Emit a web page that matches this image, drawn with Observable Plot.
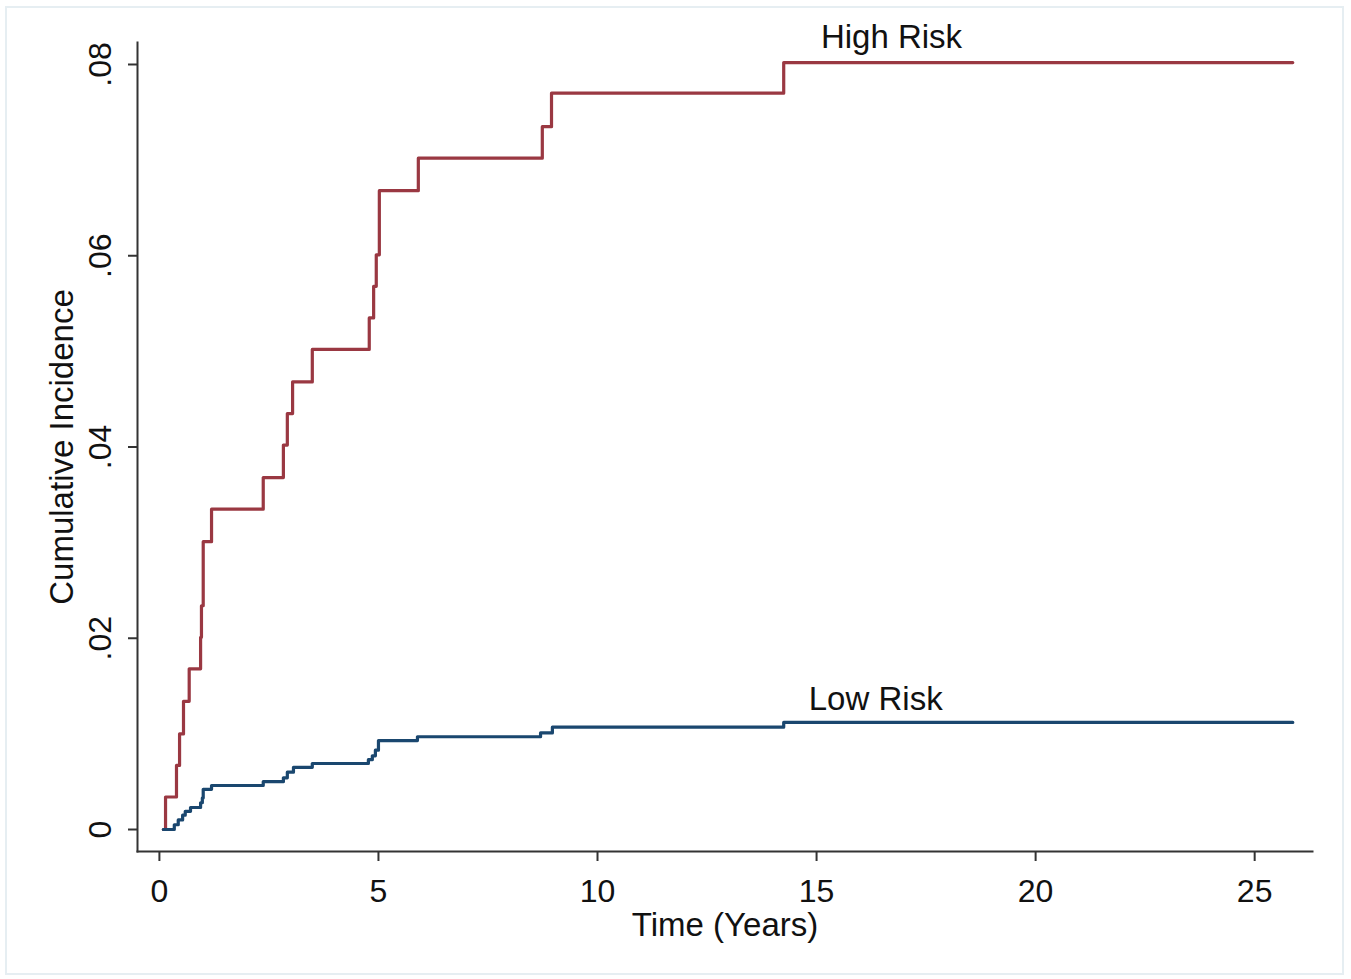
<!DOCTYPE html>
<html><head><meta charset="utf-8">
<script src="https://cdn.jsdelivr.net/npm/d3@7"></script>
<script src="https://cdn.jsdelivr.net/npm/@observablehq/plot@0.6"></script>
<style>
html,body{margin:0;padding:0;background:#fff;}
#wrap{position:relative;width:1351px;height:979px;overflow:hidden;}
#frame{position:absolute;left:5px;top:6px;width:1339px;height:969px;border:2px solid #e6eef2;box-sizing:border-box;pointer-events:none;}
#wrap svg{position:absolute;left:0;top:0;}
</style></head><body><div id="wrap"><div id="frame"></div></div>
<script>
// High risk cumulative incidence (step function)
const highTime = [0.09, 0.14, 0.39, 0.46, 0.55, 0.68, 0.94, 0.96, 1.00, 1.19, 2.37, 2.83, 2.92, 3.04, 3.49, 4.79, 4.89, 4.95, 5.02, 5.91, 8.74, 8.95, 14.25, 25.87];
const highCI   = [0, 0.0034, 0.0067, 0.0100, 0.0134, 0.0168, 0.0201, 0.0234, 0.0301, 0.0335, 0.0368, 0.0402, 0.0435, 0.0468, 0.0502, 0.0535, 0.0568, 0.0601, 0.0668, 0.0702, 0.0735, 0.0770, 0.0802, 0.0802];
// Low risk cumulative incidence (step function)
const lowTime = [0.09, 0.34, 0.43, 0.53, 0.59, 0.71, 0.94, 0.98, 1.00, 1.19, 2.37, 2.83, 2.92, 3.06, 3.49, 4.77, 4.86, 4.93, 5.00, 5.89, 8.70, 8.97, 14.25, 25.87];
const lowCI   = [0, 0.0005, 0.0010, 0.0015, 0.0019, 0.0023, 0.0028, 0.0033, 0.0042, 0.0046, 0.0050, 0.0054, 0.0060, 0.0065, 0.0069, 0.0073, 0.0077, 0.0083, 0.0093, 0.0097, 0.0101, 0.0107, 0.0112, 0.0112];

const groups = ["High Risk", "Low Risk"];
const groupColors = ["#9a3842", "#1a476f"];
const labelX = [16.71, 16.35];
const labelY = [0.0817, 0.01245];

const xTicks = [0, 5, 10, 15, 20, 25];
const yTicks = [0, 0.02, 0.04, 0.06, 0.08];
const yTickLabels = ["0", ".02", ".04", ".06", ".08"];
const xTitle = "Time (Years)";
const yTitle = "Cumulative Incidence";

const rows = [
  ...highTime.map((t, i) => ({group: groups[0], t, v: highCI[i]})),
  ...lowTime.map((t, i) => ({group: groups[1], t, v: lowCI[i]}))
];
const labels = groups.map((g, i) => ({group: g, x: labelX[i], y: labelY[i]}));

const font = "'Liberation Sans', Arial, sans-serif";
const chart = Plot.plot({
  width: 1351, height: 979,
  marginLeft: 137, marginRight: 39, marginTop: 42, marginBottom: 128,
  style: {fontFamily: font, fontSize: "32px", color: "#111", background: "transparent", overflow: "visible"},
  x: {domain: [-0.5, 26.32]},
  y: {domain: [-0.0023, 0.0823]},
  color: {domain: groups, range: groupColors},
  marks: [
    Plot.frame({anchor: "left", stroke: "#333", strokeWidth: 2}),
    Plot.frame({anchor: "bottom", stroke: "#333", strokeWidth: 2}),
    Plot.axisX({ticks: xTicks, tickSize: 10, tickPadding: 18, label: null, stroke: "#333", strokeWidth: 2, fontSize: 32}),
    Plot.axisY({ticks: yTicks, tickSize: 9, tickRotate: -90, tickPadding: 18, label: null, stroke: "#333", strokeWidth: 2, fontSize: 32,
      tickFormat: d => yTickLabels[yTicks.indexOf(d)]}),
    Plot.text([xTitle], {frameAnchor: "bottom", dy: 84, text: d => d, fontSize: 33, fill: "#111"}),
    Plot.text([yTitle], {frameAnchor: "left", dx: -75, rotate: -90, textAnchor: "middle", text: d => d, fontSize: 33, fill: "#111"}),
    Plot.line(rows, {x: "t", y: "v", z: "group", stroke: "group", strokeWidth: 3.2, curve: "step-after"}),
    Plot.text(labels, {x: "x", y: "y", text: "group", lineAnchor: "bottom", fontSize: 33, fill: "#111"})
  ]
});
document.getElementById("wrap").appendChild(chart);
</script>
</body></html>
